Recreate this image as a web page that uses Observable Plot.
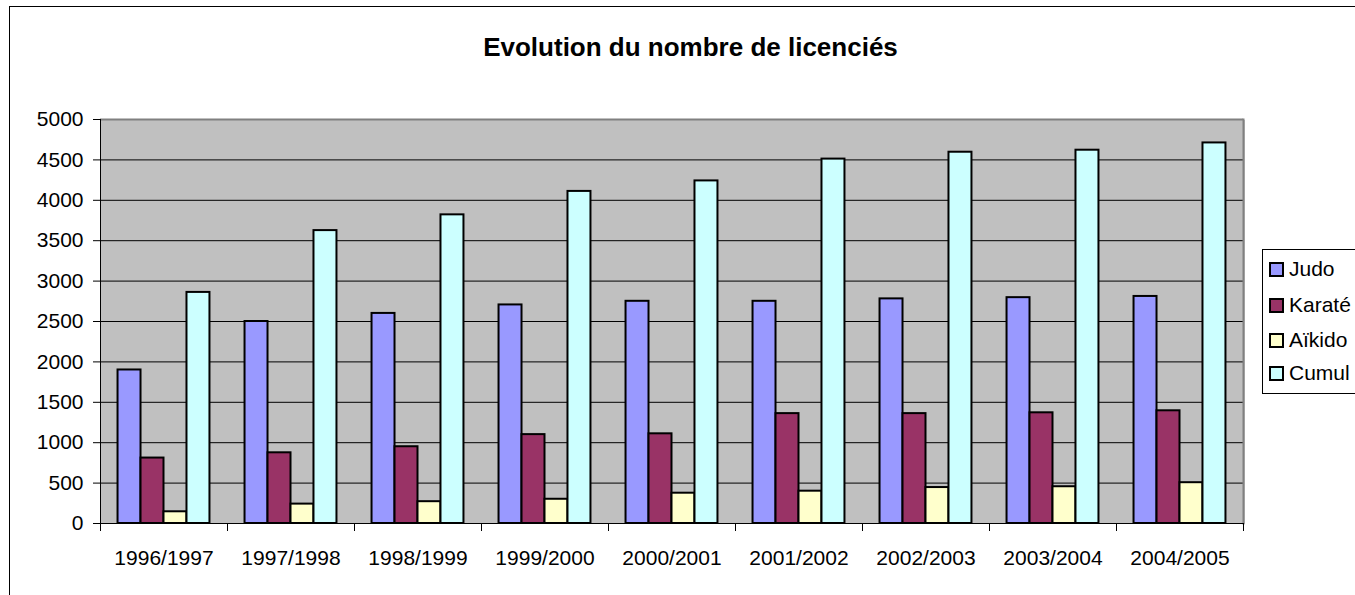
<!DOCTYPE html>
<html>
<head>
<meta charset="utf-8">
<script src="https://cdn.jsdelivr.net/npm/d3@7"></script>
<script src="https://cdn.jsdelivr.net/npm/@observablehq/plot@0.6"></script>
<style>
  html, body { margin: 0; padding: 0; background: #fff; overflow: hidden; }
  #wrap { position: relative; width: 1355px; height: 595px; overflow: hidden; font-family: "Liberation Sans", Arial, sans-serif; color: #000; }
  #border { position: absolute; left: 9px; top: 6px; width: 1400px; height: 640px; border: 1px solid #000; }
  #title { position: absolute; left: 690.5px; top: 34px; transform: translateX(-50%); font-size: 26px; line-height: 26px; font-weight: bold; white-space: nowrap; }
  #chart { position: absolute; left: 0; top: 100px; }
  #legend { position: absolute; left: 1262px; top: 249px; width: 200px; height: 143px; border: 1px solid #000; background: #fff; }
  .item { position: absolute; left: 6px; height: 24px; display: flex; align-items: center; font-size: 21px; white-space: nowrap; }
  .sw { width: 11px; height: 11px; border: 2px solid #000; margin-right: 5px; }
</style>
</head>
<body>
<div id="wrap">
  <div id="border"></div>
  <div id="title">Evolution du nombre de licenciés</div>
  <div id="chart"></div>
  <div id="legend"></div>
</div>
<script>
const years = ["1996/1997", "1997/1998", "1998/1999", "1999/2000", "2000/2001", "2001/2002", "2002/2003", "2003/2004", "2004/2005"];
const seriesNames = ["Judo", "Karaté", "Aïkido", "Cumul"];
const seriesColors = ["#9999ff", "#993366", "#ffffcc", "#ccffff"];
const judo   = [1900, 2500, 2600, 2705, 2750, 2750, 2780, 2795, 2810];
const karate = [810, 875, 950, 1100, 1110, 1360, 1360, 1370, 1395];
const aikido = [145, 240, 270, 300, 375, 400, 445, 455, 505];
const cumul  = [2860, 3625, 3820, 4110, 4240, 4510, 4595, 4620, 4710];
const yTicks = [0, 500, 1000, 1500, 2000, 2500, 3000, 3500, 4000, 4500, 5000];

const seriesValues = [judo, karate, aikido, cumul];
const rows = [];
years.forEach((year, i) => {
  seriesNames.forEach((s, k) => rows.push({year, series: s, value: seriesValues[k][i]}));
});

const plotH = 404;
const chart = Plot.plot({
  width: 1253,
  height: 483,
  marginTop: 19,
  marginBottom: 60,
  marginLeft: 99,
  marginRight: 10,
  style: {fontFamily: "'Liberation Sans', Arial, sans-serif", fontSize: "21px", color: "#000", background: "transparent", overflow: "visible"},
  fx: {domain: years, paddingInner: 0, paddingOuter: 0, round: true, label: null},
  x: {domain: seriesNames, paddingInner: 0, paddingOuter: 0.763, round: false, axis: null},
  y: {domain: [0, 5000], label: null},
  color: {domain: seriesNames, range: seriesColors},
  marks: [
    Plot.frame({fill: "#c0c0c0", stroke: "none", shapeRendering: "crispEdges", insetRight: -1}),
    Plot.gridY(yTicks, {stroke: "#000", strokeOpacity: 1, strokeWidth: 1}),
    Plot.ruleY([5000], {stroke: "#808080", strokeWidth: 2}),
    Plot.frame({anchor: "right", facetAnchor: "right", stroke: "#808080", strokeWidth: 2}),
    Plot.barY(rows, {fx: "year", x: "series", y: "value", fill: "series", stroke: "#000", strokeWidth: 2}),
    Plot.frame({anchor: "left", facetAnchor: "left", stroke: "#000", strokeWidth: 1}),
    Plot.frame({anchor: "bottom", stroke: "#000", strokeWidth: 1}),
    Plot.frame({anchor: "left", stroke: "#000", strokeWidth: 1, insetTop: plotH, insetBottom: -7}),
    Plot.frame({anchor: "right", facetAnchor: "right", stroke: "#000", strokeWidth: 1, insetTop: plotH, insetBottom: -7}),
    Plot.axisY(yTicks, {tickSize: 7, tickPadding: 10, tickFormat: d => String(d), label: null, fontSize: 21}),
    Plot.axisFx({anchor: "bottom", tickSize: 0, tickPadding: 27, label: null, fontSize: 21})
  ]
});
document.getElementById("chart").appendChild(chart);

const legend = document.getElementById("legend");
const rowTops = [7, 43, 78, 111];
seriesNames.forEach((s, k) => {
  const it = document.createElement("div");
  it.className = "item";
  it.style.top = rowTops[k] + "px";
  const sw = document.createElement("div");
  sw.className = "sw";
  sw.style.background = seriesColors[k];
  const tx = document.createElement("span");
  tx.textContent = s;
  it.appendChild(sw);
  it.appendChild(tx);
  legend.appendChild(it);
});
</script>
</body>
</html>
